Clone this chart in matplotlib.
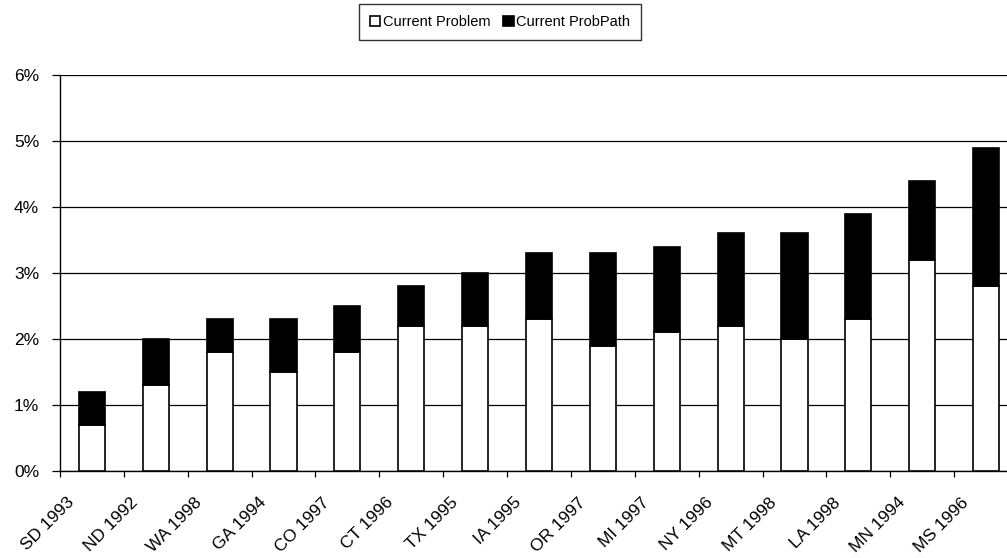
import matplotlib
matplotlib.use("Agg")
import matplotlib.pyplot as plt
import matplotlib.transforms as mtransforms
import numpy as np

plt.rcParams['font.family'] = ['Liberation Sans', 'DejaVu Sans']

# data (percent)
states = ["SD 1993", "ND 1992", "WA 1998", "GA 1994", "CO 1997", "CT 1996",
          "TX 1995", "IA 1995", "OR 1997", "MI 1997", "NY 1996", "MT 1998",
          "LA 1998", "MN 1994", "MS 1996"]
problem = [0.7, 1.3, 1.8, 1.5, 1.8, 2.2, 2.2, 2.3, 1.9, 2.1, 2.2, 2.0, 2.3, 3.2, 2.8]
total = [1.2, 2.0, 2.3, 2.3, 2.5, 2.8, 3.0, 3.3, 3.3, 3.4, 3.6, 3.6, 3.9, 4.4, 4.9]
probpath = [t - p for t, p in zip(total, problem)]
yticks = [0, 1, 2, 3, 4, 5, 6]

fig = plt.figure(figsize=(10.07, 5.58), dpi=100)
ax = fig.add_axes([60/1007, 87/558, 958/1007, 396/558])

x = np.arange(len(states)) + 0.5
w = 0.41
ax.bar(x, problem, w, color='white', edgecolor='black', linewidth=1.2,
       label='Current Problem', zorder=3)
ax.bar(x, probpath, w, bottom=problem, color='black', edgecolor='black',
       linewidth=1.2, label='Current ProbPath', zorder=3)

ax.set_xlim(0, 15)
ax.set_ylim(0, 6)
ax.set_yticks(yticks)
ax.set_yticklabels([f"{v}%" for v in yticks], fontsize=12.5)
ax.yaxis.grid(True, color='black', linewidth=0.9, zorder=0)
ax.set_axisbelow(True)

ax.set_xticks(np.arange(len(states)))
ax.set_xticklabels(states, rotation=45, ha='right', va='center',
                   rotation_mode='anchor', fontsize=12.5)
ax.tick_params(axis='x', direction='out', length=4, width=0.9, pad=17)
ax.tick_params(axis='y', direction='out', length=6, width=0.9, pad=9)

off = mtransforms.ScaledTranslation(0.12, 0, fig.dpi_scale_trans)
for lab in ax.get_xticklabels():
    lab.set_transform(lab.get_transform() + off)

for s in ['top', 'right']:
    ax.spines[s].set_visible(False)
ax.spines['left'].set_linewidth(1.0)
ax.spines['bottom'].set_linewidth(1.0)

leg = fig.legend(loc='upper center', bbox_to_anchor=(500/1007, 0.995), ncol=2,
                 fontsize=10.5, frameon=True, fancybox=False, edgecolor='black',
                 handlelength=0.7, handleheight=0.7, handletextpad=0.2,
                 columnspacing=0.9, borderpad=0.75, borderaxespad=0.1)
leg.get_frame().set_linewidth(1.0)

fig.savefig("out.png", dpi=100)
